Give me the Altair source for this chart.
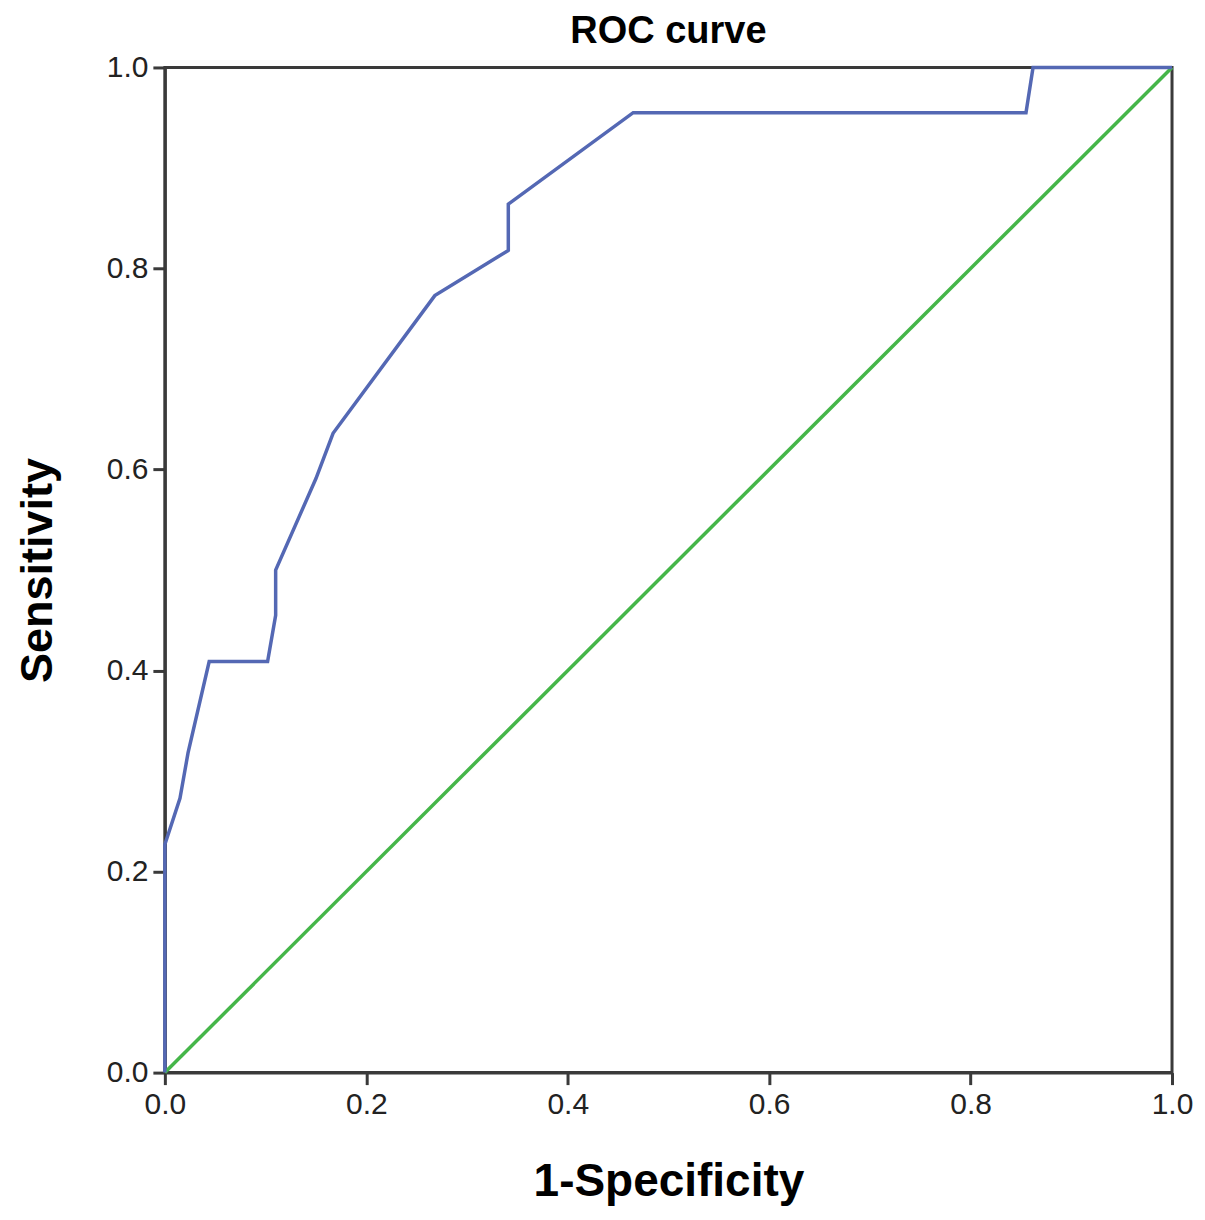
import altair as alt
import pandas as pd

# ROC curve points
fpr = [0.0, 0.0, 0.015, 0.023, 0.044, 0.102, 0.110, 0.110, 0.150, 0.167,
       0.268, 0.341, 0.341, 0.465, 0.855, 0.862, 1.0]
tpr = [0.0, 0.227, 0.273, 0.318, 0.409, 0.409, 0.455, 0.500, 0.591, 0.636,
       0.773, 0.818, 0.864, 0.955, 0.955, 1.0, 1.0]

# reference diagonal
diag_x = [0.0, 1.0]
diag_y = [0.0, 1.0]

tick_values = [0.0, 0.2, 0.4, 0.6, 0.8, 1.0]

roc = pd.DataFrame({'fpr': fpr, 'tpr': tpr, 'step': range(len(fpr))})
ref = pd.DataFrame({'fpr': diag_x, 'tpr': diag_y, 'step': range(len(diag_x))})

x_axis = alt.Axis(values=tick_values, format='.1f', grid=False,
                  tickSize=12, tickWidth=3, tickColor='#3a3a3a',
                  domainColor='#3a3a3a', domainWidth=3,
                  labelFontSize=30, labelColor='#222222', labelPadding=5,
                  labelFont='Liberation Sans', labelFlush=False,
                  titleFont='Liberation Sans', titleFontSize=46,
                  titleFontWeight='bold', titleColor='#000000', titlePadding=40)
y_axis = alt.Axis(values=tick_values, format='.1f', grid=False,
                  tickSize=12, tickWidth=3, tickColor='#3a3a3a',
                  domainColor='#3a3a3a', domainWidth=3,
                  labelFontSize=30, labelColor='#222222', labelPadding=5,
                  labelFont='Liberation Sans', labelFlush=False,
                  titleFont='Liberation Sans', titleFontSize=45,
                  titleFontWeight='bold', titleColor='#000000', titlePadding=46)

x_enc = alt.X('fpr:Q', title='1-Specificity', axis=x_axis,
              scale=alt.Scale(domain=[0, 1], nice=False, zero=False))
y_enc = alt.Y('tpr:Q', title='Sensitivity', axis=y_axis,
              scale=alt.Scale(domain=[0, 1], nice=False, zero=False))

diag_line = alt.Chart(ref).mark_line(color='#45b649', strokeWidth=3.5).encode(
    x=x_enc, y=y_enc, order='step:Q'
)

roc_line = alt.Chart(roc).mark_line(color='#5468b4', strokeWidth=3.5).encode(
    x=x_enc, y=y_enc, order='step:Q'
)

chart = alt.layer(diag_line, roc_line).properties(
    width=1008,
    height=1006,
    title=alt.TitleParams('ROC curve', font='Liberation Sans', fontSize=38,
                          fontWeight='bold', color='#000000', anchor='middle',
                          offset=1),
    autosize=alt.AutoSizeParams(type='none'),
    padding={'left': 157, 'top': 59, 'right': 25, 'bottom': 135},
).configure_view(
    stroke='#3a3a3a', strokeWidth=3
)

chart.save("out.html", embed_options={"renderer": "svg", "actions": False})
